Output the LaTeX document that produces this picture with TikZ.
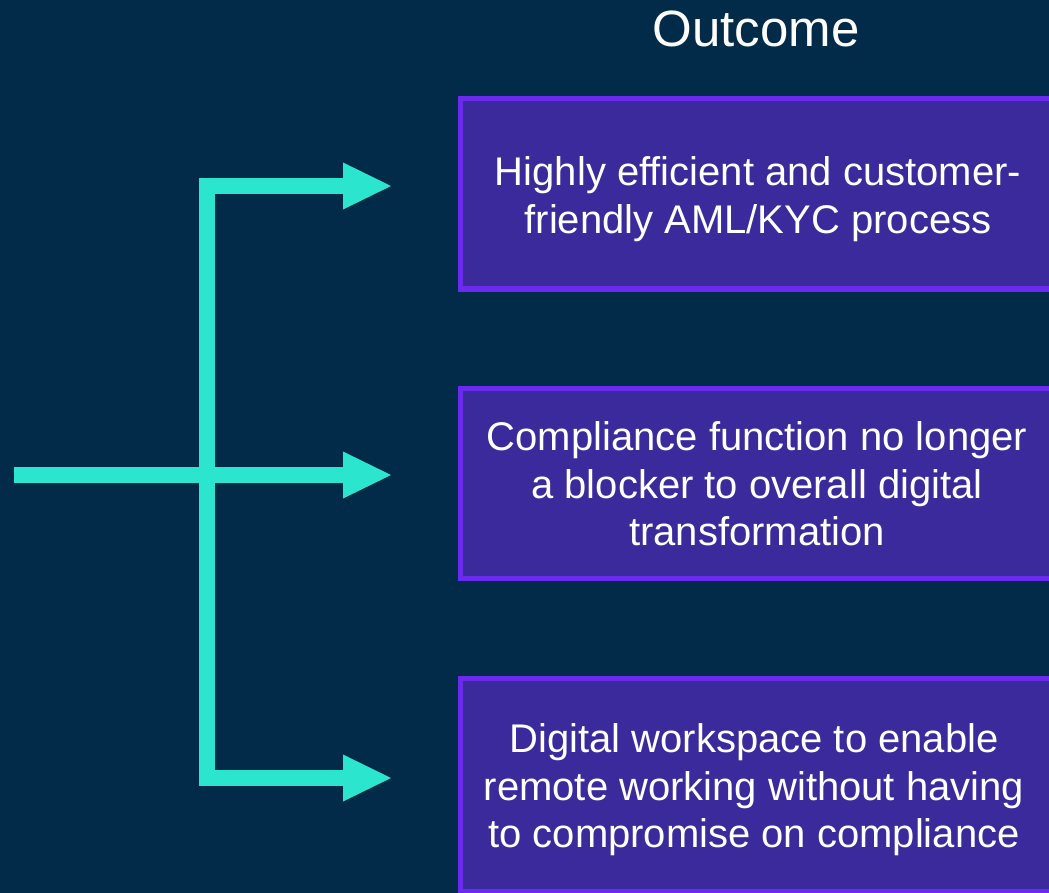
\documentclass[tikz,border=0pt]{standalone}
\usepackage{fontspec}
\setmainfont{Liberation Sans}
\usepackage{xcolor}
\usepackage{tikz}
\usetikzlibrary{arrows.meta,positioning}

\definecolor{slide_bg}{HTML}{012B48}
\definecolor{flow_teal}{HTML}{2CE5CF}
\definecolor{box_fill}{HTML}{3A2A9C}
\definecolor{box_edge}{HTML}{6B2BEF}

\begin{document}
\begin{tikzpicture}[x=1pt, y=-1pt, node distance=99pt,
                    outcome/.style={rectangle, fill=box_fill, draw=box_edge,
                                    line width=5pt, inner sep=0pt, outer sep=0pt,
                                    minimum width=596pt, minimum height=190pt},
                    outcome text/.style={text=white, align=center,
                                    font=\fontsize{40}{47.5}\selectfont},
                    branch/.style={draw=flow_teal, line width=16pt, line join=miter},
                    head/.tip={Triangle[length=48pt, width=47pt, line width=0pt]}]
    %\draw[help lines] (0,0) grid (1049,893);
   \useasboundingbox (0,0) rectangle (1049,893);
   \clip (0,0) rectangle (1049,893);
   \fill[slide_bg] (0,0) rectangle (1049,893);

   \node[text=white, font=\fontsize{51}{60}\selectfont] (title) at (756,29) {Outcome};

   % Define outcome boxes
   \node[outcome]        (box_aml)     at (758,194)      {};
   \node[outcome]        (box_blocker) [below=of box_aml]     {};
   \node[outcome, minimum height=213pt] (box_remote) [below=100pt of box_blocker] {};

   \node[outcome text] (txt_aml)     at (758,199) {Highly efficient and customer-\\friendly AML/KYC process};
   \node[outcome text] (txt_blocker) at (757,484) {Compliance function no longer\\a blocker to overall digital\\transformation};
   \node[outcome text] (txt_remote)  at (754,790) {Digital workspace to enable\\remote working without having\\to compromise on compliance};

   % Define branches
   \coordinate (feed_in)    at (14,475);
   \coordinate (branch_top) at (207,186);
   \coordinate (branch_bot) at (207,778);
   \coordinate (tip_aml)     at (391,186);
   \coordinate (tip_blocker) at (391,475);
   \coordinate (tip_remote)  at (391,778);

   \draw[branch, head-head] (tip_aml) -- (branch_top) -- (branch_bot) -- (tip_remote);
   \draw[branch, -head]     (feed_in) -- (tip_blocker);

\end{tikzpicture}
\end{document}
